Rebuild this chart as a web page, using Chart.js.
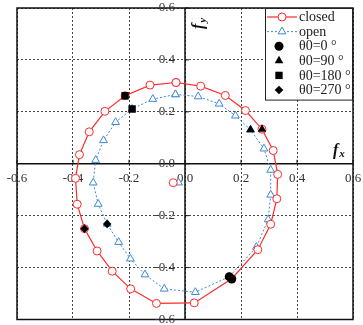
<!DOCTYPE html>
<html>
<head>
<meta charset="utf-8">
<script src="https://cdn.jsdelivr.net/npm/chart.js@4/dist/chart.umd.min.js"></script>
<style>
  body { margin: 0; background: #fff; }
  #wrap { width: 363px; height: 325px; }
</style>
</head>
<body>
<div id="wrap"><canvas id="c" width="363" height="325"></canvas></div>
<script>
// closed loop (red circles), last point repeats the first
const closedX = [-0.032, 0.056, 0.144, 0.216, 0.275, 0.315, 0.331, 0.328, 0.306, 0.260, 0.167, 0.033, -0.102, -0.194, -0.260, -0.314, -0.359, -0.385, -0.391, -0.377, -0.342, -0.286, -0.214, -0.125, -0.032];
const closedY = [0.313, 0.299, 0.263, 0.205, 0.133, 0.051, -0.041, -0.135, -0.233, -0.331, -0.443, -0.536, -0.538, -0.482, -0.414, -0.336, -0.250, -0.156, -0.056, 0.035, 0.123, 0.202, 0.262, 0.303, 0.313];
// open loop (blue triangles)
const openX = [-0.034, 0.047, 0.122, 0.180, 0.234, 0.282, 0.306, 0.306, 0.297, 0.255, 0.158, 0.037, -0.074, -0.143, -0.195, -0.237, -0.278, -0.310, -0.328, -0.319, -0.291, -0.248, -0.189, -0.115, -0.034];
const openY = [0.267, 0.259, 0.231, 0.185, 0.131, 0.058, -0.024, -0.120, -0.215, -0.321, -0.435, -0.495, -0.482, -0.427, -0.366, -0.302, -0.232, -0.155, -0.073, 0.014, 0.090, 0.160, 0.211, 0.249, 0.267];
// single points near the origin
const closedStartX = [-0.042], closedStartY = [-0.073];
const openStartX = [-0.023], openStartY = [-0.073];
// theta0 markers: [closed, open]
const t0X = [0.167, 0.158], t0Y = [-0.444, -0.435];
const t90X = [0.275, 0.234], t90Y = [0.133, 0.131];
const t180X = [-0.214, -0.189], t180Y = [0.262, 0.211];
const t270X = [-0.359, -0.278], t270Y = [-0.250, -0.232];
const axisMin = -0.6, axisMax = 0.6, axisStep = 0.2;

const RED = '#ff2b2b', BLUE = '#3a8ad6';
const pts = (xs, ys) => xs.map((x, i) => ({ x: x, y: ys[i] }));
const SERIF = '"Liberation Serif", "Times New Roman", serif';

function marker(label, xs, ys, style, r) {
  return { label: label, data: pts(xs, ys), showLine: false, pointStyle: style, pointRadius: r,
    pointBackgroundColor: '#000', pointBorderColor: '#000', pointBorderWidth: 0, order: 0 };
}

const datasets = [
  { label: 'closed', data: pts(closedX, closedY), showLine: true, borderColor: RED, borderWidth: 1.2,
    pointStyle: 'circle', pointRadius: 4, pointBorderWidth: 1, pointBorderColor: RED, pointBackgroundColor: '#fff', order: 1 },
  { label: 'open', data: pts(openX, openY), showLine: true, borderColor: BLUE, borderWidth: 1, borderDash: [2, 2],
    pointStyle: 'triangle', pointRadius: 4.5, pointBorderWidth: 1, pointBorderColor: BLUE, pointBackgroundColor: '#fff', order: 2 },
  { data: pts(closedStartX, closedStartY), showLine: false, pointStyle: 'circle', pointRadius: 4, pointBorderWidth: 1,
    pointBorderColor: RED, pointBackgroundColor: '#fff', order: 1 },
  { data: pts(openStartX, openStartY), showLine: false, pointStyle: 'triangle', pointRadius: 4.5, pointBorderWidth: 1,
    pointBorderColor: BLUE, pointBackgroundColor: '#fff', order: 2 },
  marker('θ0=0 °', t0X, t0Y, 'circle', 4.5),
  marker('θ0=90 °', t90X, t90Y, 'triangle', 5),
  marker('θ0=180 °', t180X, t180Y, 'rect', 5.2),
  marker('θ0=270 °', t270X, t270Y, 'rectRot', 4.3)
];

// frame, axes through zero, tick labels, axis titles
const axesPlugin = {
  id: 'axesPlugin',
  beforeDatasetsDraw(chart) {
    const ctx = chart.ctx, a = chart.chartArea;
    const sx = chart.scales.x, sy = chart.scales.y;
    const x0 = sx.getPixelForValue(0), y0 = sy.getPixelForValue(0);
    ctx.save();
    ctx.strokeStyle = '#111';
    ctx.lineWidth = 1.5;
    ctx.strokeRect(a.left, a.top, a.right - a.left, a.bottom - a.top);
    ctx.beginPath();
    ctx.moveTo(a.left, y0); ctx.lineTo(a.right, y0);
    ctx.moveTo(x0, a.top); ctx.lineTo(x0, a.bottom);
    ctx.stroke();
    ctx.lineWidth = 1;
    ctx.beginPath();
    sx.ticks.forEach(t => { const p = sx.getPixelForValue(t.value); ctx.moveTo(p, y0); ctx.lineTo(p, y0 - 4); });
    sy.ticks.forEach(t => { const p = sy.getPixelForValue(t.value); ctx.moveTo(x0, p); ctx.lineTo(x0 + 4, p); });
    ctx.stroke();

    ctx.fillStyle = '#333';
    ctx.font = '13px ' + SERIF;
    ctx.textAlign = 'center'; ctx.textBaseline = 'middle';
    sx.ticks.forEach(t => ctx.fillText(t.value.toFixed(1), sx.getPixelForValue(t.value), y0 + 15));
    ctx.textAlign = 'right';
    sy.ticks.forEach(t => ctx.fillText(t.value.toFixed(1), x0 - 10, sy.getPixelForValue(t.value)));

    // axis titles
    ctx.fillStyle = '#111';
    ctx.textAlign = 'left'; ctx.textBaseline = 'alphabetic';
    ctx.font = 'italic bold 16px ' + SERIF;
    ctx.fillText('f', a.right - 20, y0 - 9);
    const fw = ctx.measureText('f').width;
    ctx.font = 'italic bold 11px ' + SERIF;
    ctx.fillText('x', a.right - 20 + fw + 1, y0 - 7);

    ctx.translate(x0 + 18, a.top + 21);
    ctx.rotate(-Math.PI / 2);
    ctx.font = 'italic bold 16px ' + SERIF;
    ctx.fillText('f', 0, 0);
    ctx.font = 'italic bold 11px ' + SERIF;
    ctx.fillText('y', fw + 1, 3);
    ctx.restore();
  }
};

// legend box in the top right corner
const legendPlugin = {
  id: 'legendPlugin',
  afterDraw(chart) {
    const ctx = chart.ctx, a = chart.chartArea;
    const items = chart.data.datasets.filter(d => d.label);
    const left = 265, top = a.top, right = a.right, rowH = 14.6;
    const bottom = top + 9 + rowH * items.length - 5;
    ctx.save();
    ctx.fillStyle = '#fff';
    ctx.fillRect(left, top, right - left, bottom - top);
    ctx.strokeStyle = '#222';
    ctx.lineWidth = 1;
    ctx.strokeRect(left + 0.5, top + 0.5, right - left - 1, bottom - top);
    items.forEach((d, i) => {
      const y = top + 9 + i * rowH;
      let mx = 279;
      if (d.showLine) {
        mx = 282;
        ctx.strokeStyle = d.borderColor;
        ctx.lineWidth = d.borderWidth;
        ctx.setLineDash(d.borderDash || []);
        ctx.beginPath(); ctx.moveTo(267, y); ctx.lineTo(297, y); ctx.stroke();
        ctx.setLineDash([]);
      }
      ctx.fillStyle = d.pointBackgroundColor;
      ctx.strokeStyle = d.pointBorderColor;
      ctx.lineWidth = d.pointBorderWidth;
      Chart.helpers.drawPoint(ctx, { pointStyle: d.pointStyle, radius: d.pointRadius, rotation: 0, borderWidth: d.pointBorderWidth }, mx, y);
      ctx.fillStyle = '#222';
      ctx.font = '14px ' + SERIF;
      ctx.textAlign = 'left'; ctx.textBaseline = 'middle';
      ctx.fillText(d.label, 299, y + 0.5);
    });
    ctx.restore();
  }
};

new Chart(document.getElementById('c'), {
  type: 'scatter',
  data: { datasets: datasets },
  options: {
    responsive: false,
    animation: false,
    layout: { padding: { left: 17, top: 8, right: 10, bottom: 2 } },
    plugins: { legend: { display: false }, tooltip: { enabled: false } },
    scales: {
      x: { type: 'linear', min: axisMin, max: axisMax,
        ticks: { display: false, stepSize: axisStep },
        grid: { color: '#444', lineWidth: 1, drawTicks: false },
        border: { display: false, dash: [2, 2] } },
      y: { type: 'linear', min: axisMin, max: axisMax,
        ticks: { display: false, stepSize: axisStep },
        grid: { color: '#444', lineWidth: 1, drawTicks: false },
        border: { display: false, dash: [2, 2] } }
    }
  },
  plugins: [axesPlugin, legendPlugin]
});
</script>
</body>
</html>
